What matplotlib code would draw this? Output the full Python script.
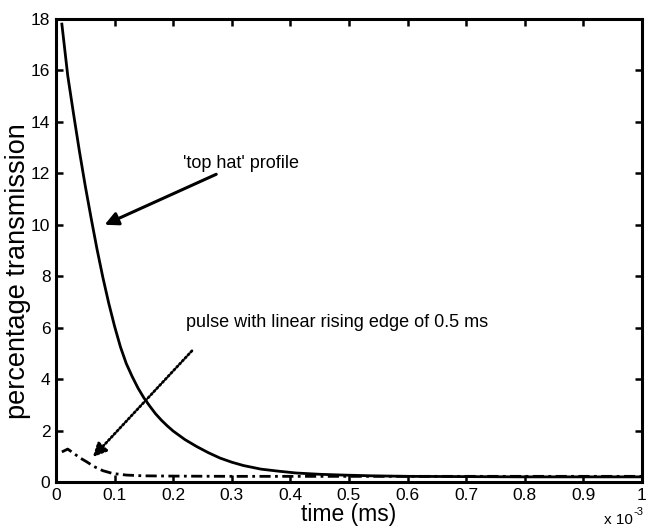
import matplotlib
matplotlib.use("Agg")
import matplotlib.pyplot as plt

plt.rcParams['font.family'] = ['Liberation Sans', 'DejaVu Sans']

# time in units of 1e-3 ms
t_top = [0.01, 0.02, 0.03, 0.04, 0.05, 0.06, 0.07, 0.08, 0.09, 0.10, 0.11, 0.12,
         0.13, 0.14, 0.15, 0.16, 0.17, 0.18, 0.19, 0.20, 0.22, 0.24, 0.26, 0.28,
         0.30, 0.32, 0.35, 0.38, 0.41, 0.45, 0.49, 0.54, 0.60, 0.70, 0.80, 1.0]
y_top = [17.8, 15.8, 14.3, 12.85, 11.5, 10.25, 9.05, 7.95, 6.95, 6.05, 5.25, 4.6,
         4.1, 3.65, 3.27, 2.95, 2.65, 2.4, 2.18, 1.98, 1.65, 1.38, 1.14, 0.93,
         0.77, 0.64, 0.5, 0.42, 0.35, 0.3, 0.27, 0.24, 0.22, 0.21, 0.2, 0.2]

t_lin = [0.01, 0.02, 0.03, 0.04, 0.052, 0.065, 0.08, 0.097, 0.12, 0.15, 0.2, 0.3,
         0.5, 0.7, 1.0]
y_lin = [1.17, 1.28, 1.12, 0.95, 0.79, 0.6, 0.44, 0.33, 0.27, 0.24, 0.23, 0.22,
         0.22, 0.22, 0.22]

xticks = [0, 0.1, 0.2, 0.3, 0.4, 0.5, 0.6, 0.7, 0.8, 0.9, 1]
xticklabels = ['0', '0.1', '0.2', '0.3', '0.4', '0.5', '0.6', '0.7', '0.8', '0.9', '1']
yticks = [0, 2, 4, 6, 8, 10, 12, 14, 16, 18]

fig = plt.figure(figsize=(6.46, 5.28), dpi=100)
ax = fig.add_axes([0.0867, 0.0871, 0.907, 0.877])

ax.plot(t_top, y_top, color='black', lw=2.0)
ax.plot(t_lin, y_lin, color='black', lw=2.0, linestyle=(0, (4, 1.6, 1, 1.6)))

ax.set_xlim(0, 1)
ax.set_ylim(0, 18)
ax.set_xticks(xticks)
ax.set_xticklabels(xticklabels)
ax.set_yticks(yticks)
ax.tick_params(direction='in', length=5, width=1.8, top=True, right=True,
               labelsize=12.5, pad=4)
for s in ax.spines.values():
    s.set_linewidth(2.2)

ax.set_xlabel('time (ms)', fontsize=16.5, labelpad=0)
ax.set_ylabel('percentage transmission', fontsize=19.5)
ax.yaxis.set_label_coords(-0.042, 0.455)
fig.text(604 / 646, 1 - 524 / 528, 'x 10', fontsize=11, ha='left', va='baseline')
fig.text(634 / 646, 1 - 515 / 528, '-3', fontsize=8, ha='left', va='baseline')

ax.annotate("'top hat' profile", xy=(0.083, 10.0), xytext=(0.217, 12.4),
            fontsize=13, va='center', ha='left',
            arrowprops=dict(arrowstyle='-|>', color='black', lw=2.2,
                            mutation_scale=20, shrinkA=0, shrinkB=0))
ax.text(0.222, 6.2, 'pulse with linear rising edge of 0.5 ms', fontsize=13,
        va='center', ha='left')
ax.annotate('', xy=(0.063, 0.97), xytext=(0.232, 5.1),
            arrowprops=dict(arrowstyle='-|>', color='black', lw=2.0,
                            linestyle=(0, (0.6, 0.9)),
                            mutation_scale=20, shrinkA=0, shrinkB=0))

fig.savefig('out.png', dpi=100)
